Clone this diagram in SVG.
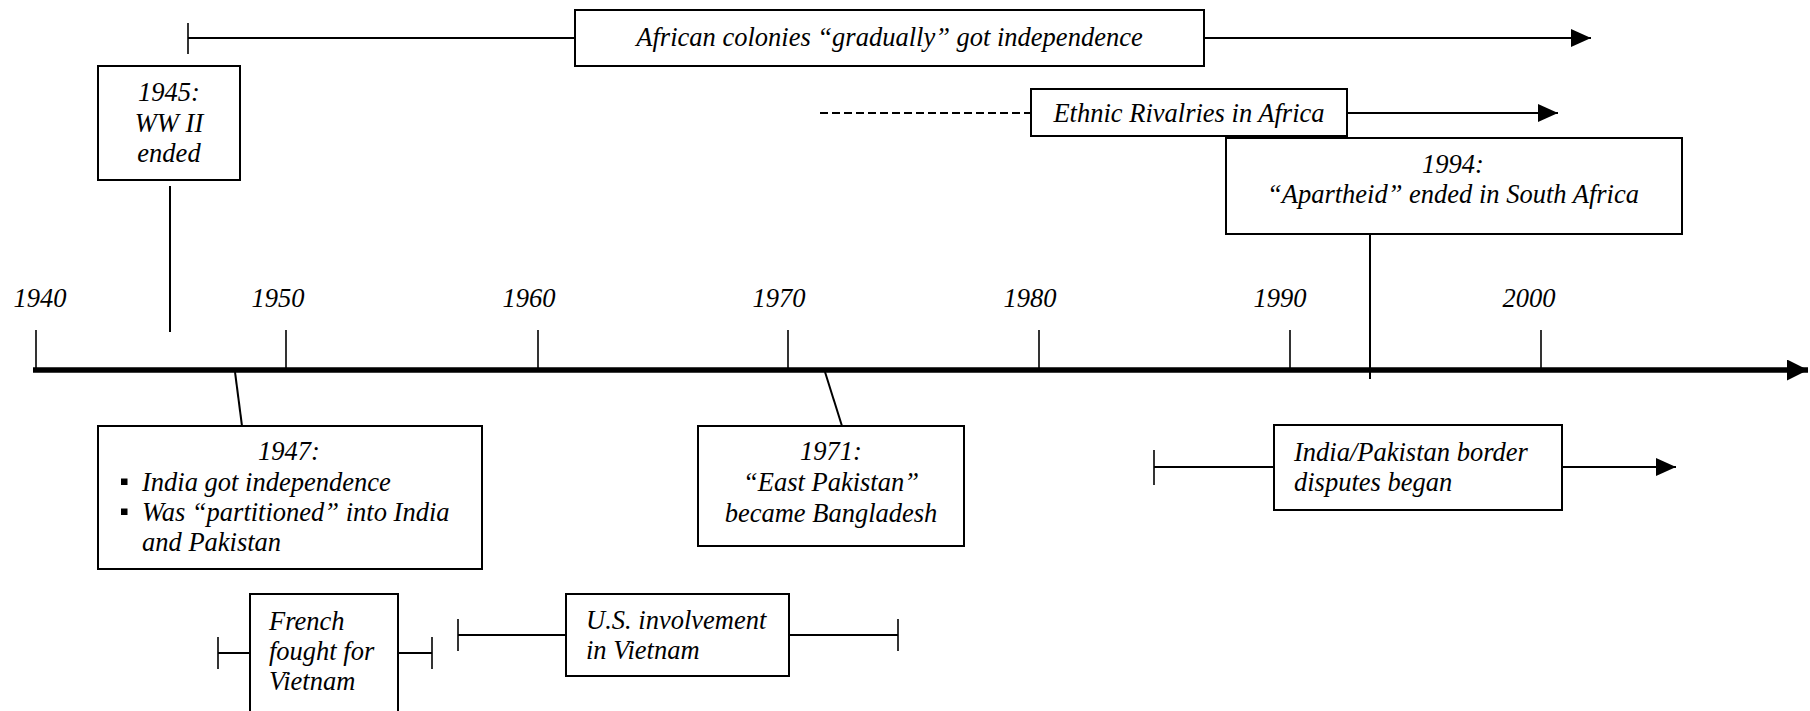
<svg xmlns="http://www.w3.org/2000/svg" width="1810" height="711" viewBox="0 0 1810 711">
  <style>
    text { font-family: "Liberation Serif", "Times New Roman", serif; font-style: italic; font-size: 26.5px; fill: #000; }
    .c { text-anchor: middle; }
    .box { fill: #fff; stroke: #000; stroke-width: 2; }
    .ln { stroke: #000; stroke-width: 2; fill: none; }
    .tk { stroke: #000; stroke-width: 1.6; fill: none; }
    .dash { stroke: #000; stroke-width: 2; stroke-dasharray: 8 4; fill: none; }
    .axis { stroke: #000; stroke-width: 5.5; fill: none; }
  </style>
  <defs>
    <marker id="arrow" markerUnits="userSpaceOnUse" markerWidth="20" markerHeight="18" refX="20" refY="9" orient="auto">
      <path d="M0,0 L20,9 L0,18 Z" fill="#000"/>
    </marker>
    <marker id="axisArrow" markerUnits="userSpaceOnUse" markerWidth="22" markerHeight="21" refX="21" refY="10.5" orient="auto">
      <path d="M0,0 L21,10.5 L0,21 Z" fill="#000"/>
    </marker>
  </defs>

  <!-- timeline axis with decade ticks -->
  <g id="axis">
    <line class="axis" x1="33" y1="370" x2="1808" y2="370" marker-end="url(#axisArrow)"/>
    <line class="tk" x1="36" y1="330" x2="36" y2="368"/>
    <line class="tk" x1="286" y1="330" x2="286" y2="368"/>
    <line class="tk" x1="538" y1="330" x2="538" y2="368"/>
    <line class="tk" x1="788" y1="330" x2="788" y2="368"/>
    <line class="tk" x1="1039" y1="330" x2="1039" y2="368"/>
    <line class="tk" x1="1290" y1="330" x2="1290" y2="368"/>
    <line class="tk" x1="1541" y1="330" x2="1541" y2="368"/>
    <text class="c" x="40" y="307">1940</text>
    <text class="c" x="278" y="307">1950</text>
    <text class="c" x="529" y="307">1960</text>
    <text class="c" x="779" y="307">1970</text>
    <text class="c" x="1030" y="307">1980</text>
    <text class="c" x="1280" y="307">1990</text>
    <text class="c" x="1529" y="307">2000</text>
  </g>

  <!-- connectors and period bars -->
  <g id="connectors">
    <!-- African colonies bar -->
    <line class="tk" x1="188" y1="23" x2="188" y2="54"/>
    <line class="ln" x1="188" y1="38" x2="575" y2="38"/>
    <line class="ln" x1="1204" y1="38" x2="1591" y2="38" marker-end="url(#arrow)"/>
    <!-- ethnic rivalries -->
    <line class="dash" x1="820" y1="113" x2="1031" y2="113"/>
    <line class="ln" x1="1347" y1="113" x2="1558" y2="113" marker-end="url(#arrow)"/>
    <!-- event leaders -->
    <line class="ln" x1="170" y1="186" x2="170" y2="332"/>
    <line class="ln" x1="1370" y1="234" x2="1370" y2="379"/>
    <line class="ln" x1="235" y1="372" x2="242" y2="426"/>
    <line class="ln" x1="825" y1="372" x2="842" y2="426"/>
    <!-- India/Pakistan border disputes -->
    <line class="tk" x1="1154" y1="450" x2="1154" y2="485"/>
    <line class="ln" x1="1154" y1="467" x2="1274" y2="467"/>
    <line class="ln" x1="1562" y1="467" x2="1676" y2="467" marker-end="url(#arrow)"/>
    <!-- French war -->
    <line class="tk" x1="218" y1="637" x2="218" y2="669"/>
    <line class="ln" x1="218" y1="653" x2="250" y2="653"/>
    <line class="ln" x1="398" y1="653" x2="432" y2="653"/>
    <line class="tk" x1="432" y1="637" x2="432" y2="669"/>
    <!-- U.S. involvement -->
    <line class="tk" x1="458" y1="619" x2="458" y2="651"/>
    <line class="ln" x1="458" y1="635" x2="566" y2="635"/>
    <line class="ln" x1="789" y1="635" x2="898" y2="635"/>
    <line class="tk" x1="898" y1="619" x2="898" y2="651"/>
  </g>

  <g id="african-colonies">
    <rect class="box" x="575" y="10" width="629" height="56"/>
    <text class="c" x="889.5" y="46">African colonies “gradually” got independence</text>
  </g>

  <g id="ethnic-rivalries">
    <rect class="box" x="1031" y="89" width="316" height="47"/>
    <text class="c" x="1189" y="122">Ethnic Rivalries in Africa</text>
  </g>

  <g id="ww2-ended">
    <rect class="box" x="98" y="66" width="142" height="114"/>
    <text class="c" x="169" y="101">1945:</text>
    <text class="c" x="169" y="132">WW II</text>
    <text class="c" x="169" y="162">ended</text>
  </g>

  <g id="apartheid-ended">
    <rect class="box" x="1226" y="138" width="456" height="96"/>
    <text class="c" x="1453" y="173">1994:</text>
    <text class="c" x="1453" y="203">“Apartheid” ended in South Africa</text>
  </g>

  <g id="india-independence">
    <rect class="box" x="98" y="426" width="384" height="143"/>
    <text class="c" x="289" y="460">1947:</text>
    <rect x="121" y="478.5" width="6.5" height="6.5" fill="#000"/>
    <text x="142" y="491">India got independence</text>
    <rect x="121" y="508.5" width="6.5" height="6.5" fill="#000"/>
    <text x="142" y="521">Was “partitioned” into India</text>
    <text x="142" y="551">and Pakistan</text>
  </g>

  <g id="bangladesh">
    <rect class="box" x="698" y="426" width="266" height="120"/>
    <text class="c" x="831" y="460">1971:</text>
    <text class="c" x="831" y="491">“East Pakistan”</text>
    <text class="c" x="831" y="522">became Bangladesh</text>
  </g>

  <g id="border-disputes">
    <rect class="box" x="1274" y="425" width="288" height="85"/>
    <text x="1294" y="461">India/Pakistan border</text>
    <text x="1294" y="491">disputes began</text>
  </g>

  <g id="french-vietnam">
    <rect class="box" x="250" y="594" width="148" height="130"/>
    <text x="269" y="630">French</text>
    <text x="269" y="660">fought for</text>
    <text x="269" y="690">Vietnam</text>
  </g>

  <g id="us-vietnam">
    <rect class="box" x="566" y="594" width="223" height="82"/>
    <text x="586" y="629">U.S. involvement</text>
    <text x="586" y="659">in Vietnam</text>
  </g>
</svg>
